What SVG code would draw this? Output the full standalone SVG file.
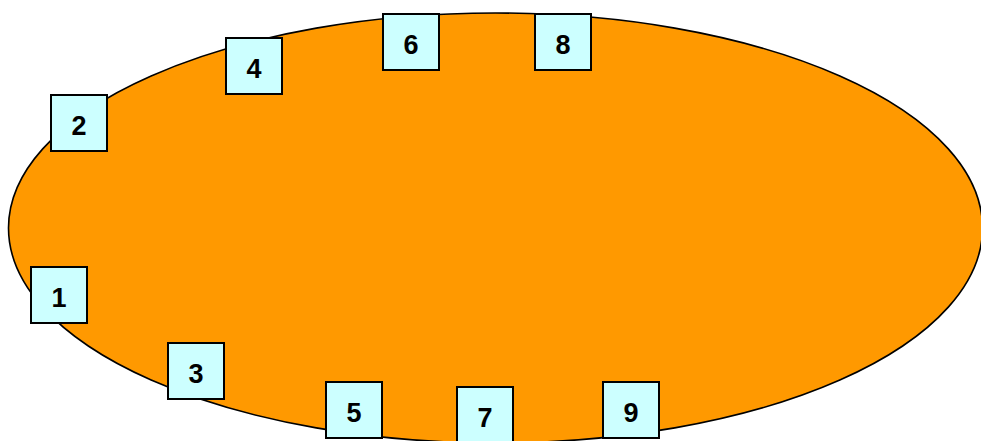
<svg xmlns="http://www.w3.org/2000/svg" width="981" height="441" viewBox="0 0 981 441">
<style>
.box{fill:#CCFFFF;stroke:#000;stroke-width:2}
.lbl{font-family:"Liberation Sans",Arial,sans-serif;font-weight:bold;font-size:27px;text-anchor:middle;fill:#000}
</style>
<rect width="981" height="441" fill="#fff"/>
<ellipse id="oval" cx="495.5" cy="228" rx="487" ry="215" fill="#FF9900" stroke="#000" stroke-width="1.6"/>
<g id="connectors"></g>
<g id="n1"><rect class="box" x="31" y="267" width="56" height="56"/><text class="lbl" x="59" y="306.5">1</text></g>
<g id="n2"><rect class="box" x="51" y="95" width="56" height="56"/><text class="lbl" x="79" y="134.5">2</text></g>
<g id="n3"><rect class="box" x="168" y="343" width="56" height="56"/><text class="lbl" x="196" y="382.5">3</text></g>
<g id="n4"><rect class="box" x="226" y="38" width="56" height="56"/><text class="lbl" x="254" y="77.5">4</text></g>
<g id="n5"><rect class="box" x="326" y="382" width="56" height="56"/><text class="lbl" x="354" y="421.5">5</text></g>
<g id="n6"><rect class="box" x="383" y="14" width="56" height="56"/><text class="lbl" x="411" y="53.5">6</text></g>
<g id="n7"><rect class="box" x="457" y="387" width="56" height="56"/><text class="lbl" x="485" y="426.5">7</text></g>
<g id="n8"><rect class="box" x="535" y="14" width="56" height="56"/><text class="lbl" x="563" y="53.5">8</text></g>
<g id="n9"><rect class="box" x="603" y="382" width="56" height="56"/><text class="lbl" x="631" y="421.5">9</text></g>
</svg>
